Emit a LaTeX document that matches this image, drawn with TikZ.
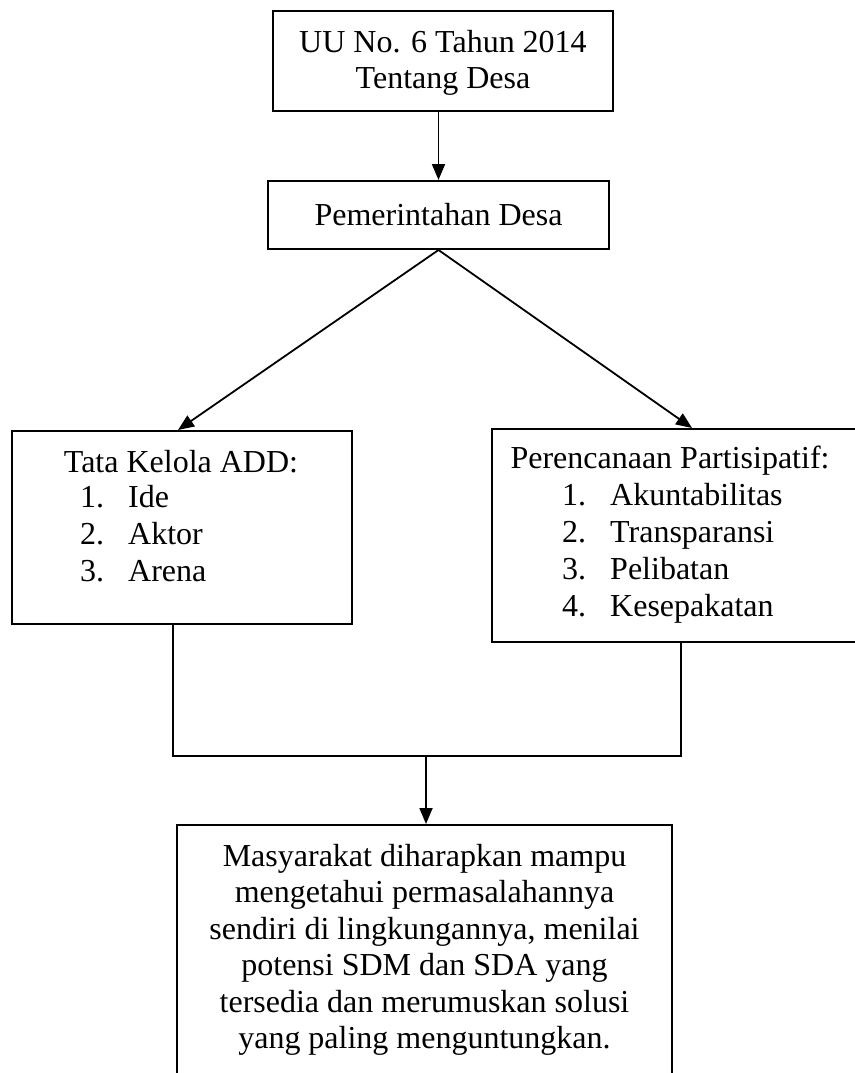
\documentclass[tikz,border=0pt]{standalone}
\usepackage{fontspec}
\setmainfont{Liberation Serif}
\usetikzlibrary{arrows.meta}
\begin{document}
\begin{tikzpicture}[x=1pt,y=-1pt,
  box/.style={draw, line width=2pt, inner sep=0pt},
  txt/.style={font=\fontsize{32}{36.5}\selectfont, inner sep=0pt},
  arr/.style={line width=1.8pt, -{Triangle[length=16pt,width=13pt]}},
  conn/.style={line width=1.8pt}]
\useasboundingbox (0,0) rectangle (854,1073);
% boxes
\node[box, minimum width=340pt, minimum height=100pt] (top) at (443,61) {};
\node[box, minimum width=341pt, minimum height=68pt] (pem) at (438.5,215) {};
\node[box, minimum width=340pt, minimum height=193pt] (left) at (182,527.5) {};
\node[box, minimum width=366pt, minimum height=213pt] (right) at (675,535.5) {};
\node[box, minimum width=495pt, minimum height=265pt] (bot) at (424.5,957.5) {};
% texts
\node[txt, align=center] (toptxt) at (443,63) {UU No. 6 Tahun 2014\\Tentang Desa};
\node[txt] (pemtxt) at (438.5,215) {Pemerintahan Desa};
\node[txt, anchor=base] (lh) at (181,472) {Tata Kelola ADD:};
\node[txt, anchor=base west] (ln1) at (80,507) {1.};
\node[txt, anchor=base west] (ln2) at (80,544) {2.};
\node[txt, anchor=base west] (ln3) at (80,581) {3.};
\node[txt, anchor=base west] (li1) at (128,507) {Ide};
\node[txt, anchor=base west] (li2) at (128,544) {Aktor};
\node[txt, anchor=base west] (li3) at (128,581) {Arena};
\node[txt, anchor=base] (rh) at (670,468) {Perencanaan Partisipatif:};
\node[txt, anchor=base west] (rn1) at (562,505) {1.};
\node[txt, anchor=base west] (rn2) at (562,542) {2.};
\node[txt, anchor=base west] (rn3) at (562,579) {3.};
\node[txt, anchor=base west] (rn4) at (562,616) {4.};
\node[txt, anchor=base west] (ri1) at (610,505) {Akuntabilitas};
\node[txt, anchor=base west] (ri2) at (610,542) {Transparansi};
\node[txt, anchor=base west] (ri3) at (610,579) {Pelibatan};
\node[txt, anchor=base west] (ri4) at (610,616) {Kesepakatan};
\node[txt, align=center, anchor=north] (bottxt) at (424.5,844) {Masyarakat diharapkan mampu\\mengetahui permasalahannya\\sendiri di lingkungannya, menilai\\potensi SDM dan SDA yang\\tersedia dan merumuskan solusi\\yang paling menguntungkan.};
% connectors
\draw[arr] (pem.north |- top.south) -- (pem.north);
\draw[arr] (pem.south) -- ([xshift=-4pt]left.north);
\draw[arr] (pem.south) -- ([xshift=17pt]right.north);
\coordinate (j) at (426,756);
\draw[conn] ([xshift=-9pt]left.south) |- (j) -| ([xshift=6pt]right.south);
\draw[arr] (j) -- (j |- bot.north);
\end{tikzpicture}
\end{document}
